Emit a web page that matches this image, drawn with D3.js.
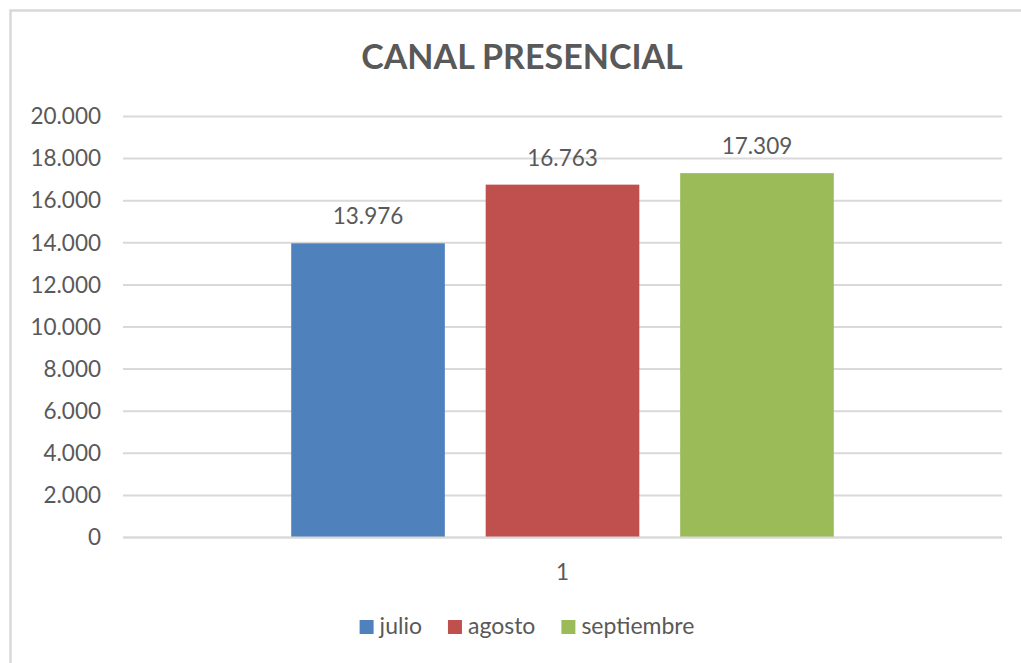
<!DOCTYPE html>
<html>
<head>
<meta charset="utf-8">
<script src="https://cdn.jsdelivr.net/npm/d3@7"></script>
<style>
  html, body { margin: 0; padding: 0; background: #ffffff; overflow: hidden; }
  svg { display: block; }
  text { font-family: Lato, "Open Sans", "Noto Sans", sans-serif; fill: #595959; }
</style>
</head>
<body>
<svg id="chart" width="1021" height="663"></svg>
<script>
// ---- data ----
const title = "CANAL PRESENCIAL";
const categories = ["1"];
const seriesNames = ["julio", "agosto", "septiembre"];
const seriesValues = [13976, 16763, 17309];
const seriesColors = ["#4f81bd", "#c0504d", "#9bbb59"];
const yTicks = [0, 2000, 4000, 6000, 8000, 10000, 12000, 14000, 16000, 18000, 20000];

const fmt = v => d3.format(",")(v).replace(/,/g, ".");

const svg = d3.select("#chart");

// chart frame (extends beyond the viewport at right/bottom)
svg.append("rect")
  .attr("x", 10.5).attr("y", 10.5)
  .attr("width", 1040).attr("height", 680)
  .attr("fill", "#ffffff")
  .attr("stroke", "#d9d9d9").attr("stroke-width", 2.5);

const plot = { left: 123, right: 1002, top: 116.5, bottom: 537.5 };

const y = d3.scaleLinear().domain([0, 20000]).range([plot.bottom, plot.top]);
const x0 = d3.scaleBand().domain(categories).range([plot.left, plot.right])
  .paddingInner(0).paddingOuter(0.31);
const x1 = d3.scaleBand().domain(seriesNames).range([0, x0.bandwidth()])
  .paddingInner(0.21).paddingOuter(0);

// gridlines
svg.append("g").selectAll("line").data(yTicks).join("line")
  .attr("x1", plot.left).attr("x2", plot.right)
  .attr("y1", d => y(d)).attr("y2", d => y(d))
  .attr("stroke", "#d9d9d9").attr("stroke-width", 2);

// y axis labels via d3 axis
const yAxis = d3.axisLeft(y).tickValues(yTicks).tickFormat(fmt).tickSize(0).tickPadding(22);
const gy = svg.append("g").attr("transform", `translate(${plot.left},0)`).call(yAxis);
gy.select(".domain").remove();
gy.selectAll("text")
  .style("font-family", "Lato, 'Open Sans', sans-serif")
  .style("font-size", "22.5px")
  .attr("fill", "#595959");

// bars
const data = seriesNames.map((s, i) => ({ series: s, value: seriesValues[i], color: seriesColors[i], cat: categories[0] }));
const g = svg.append("g");
g.selectAll("rect").data(data).join("rect")
  .attr("x", d => x0(d.cat) + x1(d.series))
  .attr("y", d => y(d.value))
  .attr("width", x1.bandwidth())
  .attr("height", d => y(0) - y(d.value))
  .attr("fill", d => d.color);

// zero line on top
svg.append("line")
  .attr("x1", plot.left).attr("x2", plot.right)
  .attr("y1", y(0)).attr("y2", y(0))
  .attr("stroke", "#d9d9d9").attr("stroke-width", 2);

// data labels
g.selectAll("text.lbl").data(data).join("text")
  .attr("class", "lbl")
  .attr("x", d => x0(d.cat) + x1(d.series) + x1.bandwidth() / 2)
  .attr("y", d => y(d.value) - 19)
  .attr("text-anchor", "middle")
  .style("font-size", "22.5px")
  .text(d => fmt(d.value));

// x axis category labels
const xAxis = d3.axisBottom(x0).tickSize(0).tickPadding(27);
const gx = svg.append("g").attr("transform", `translate(0,${plot.bottom})`).call(xAxis);
gx.select(".domain").remove();
gx.selectAll("text")
  .style("font-family", "Lato, 'Open Sans', sans-serif")
  .style("font-size", "22.5px")
  .attr("fill", "#595959");

// title
svg.append("text")
  .attr("x", 522).attr("y", 69)
  .attr("text-anchor", "middle")
  .style("font-size", "34px")
  .style("font-weight", "bold")
  .text(title);

// legend
const legend = svg.append("g");
const items = legend.selectAll("g").data(data).join("g");
items.append("rect")
  .attr("width", 14).attr("height", 14)
  .attr("y", 620)
  .attr("fill", d => d.color);
items.append("text")
  .attr("x", 20).attr("y", 634)
  .style("font-size", "23px")
  .text(d => d.series);
const widths = [];
items.each(function () {
  const tw = d3.select(this).select("text").node().getComputedTextLength();
  widths.push(20 + tw);
});
const gap = 26;
const total = d3.sum(widths) + gap * (widths.length - 1);
let start = 527 - total / 2;
items.attr("transform", (d, i) => {
  const t = `translate(${start},0)`;
  start += widths[i] + gap;
  return t;
});
</script>
</body>
</html>
